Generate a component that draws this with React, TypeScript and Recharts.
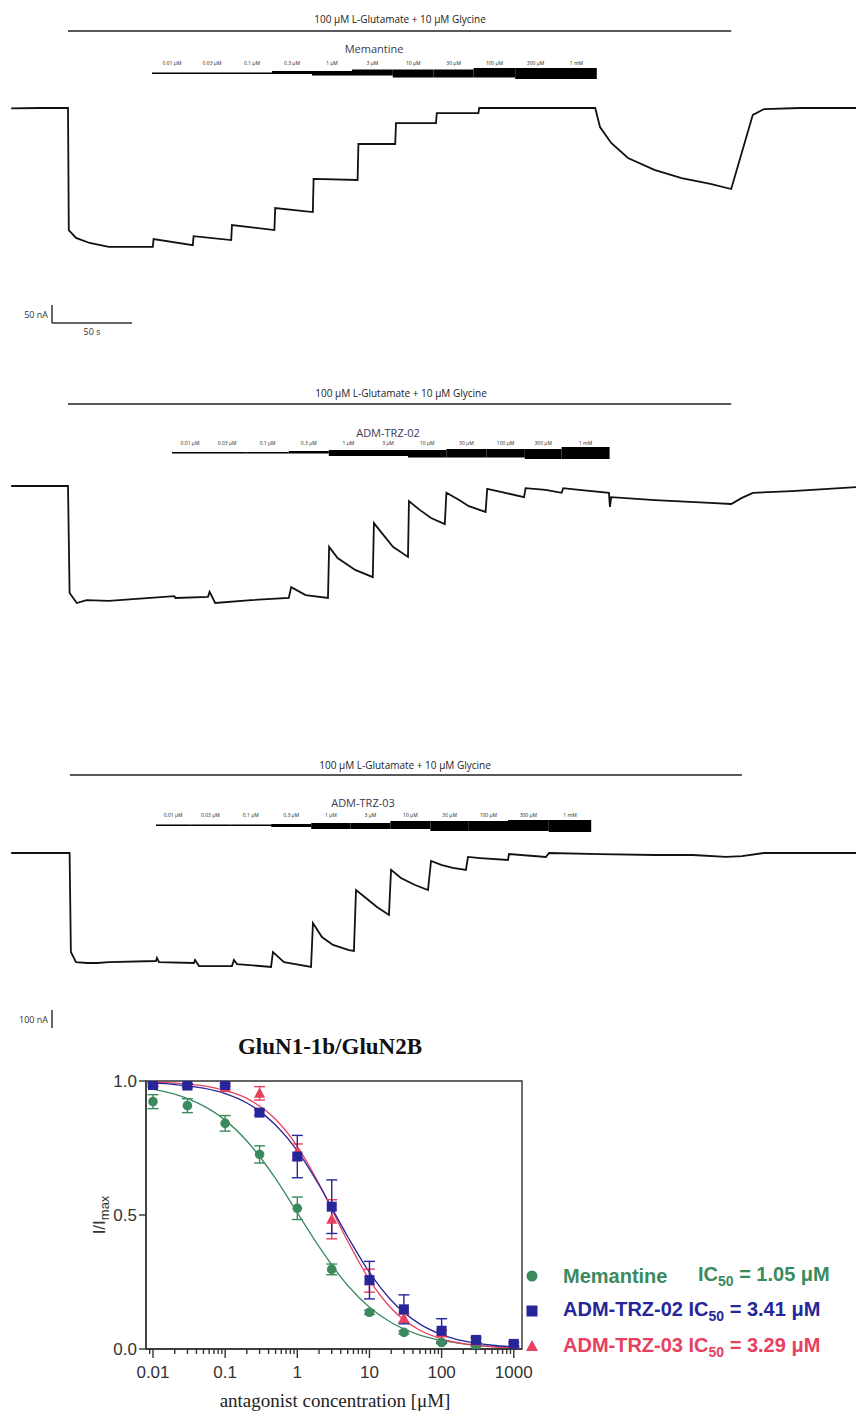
import React from 'react';
import {
  LineChart,
  Line,
  XAxis,
  YAxis,
  ReferenceLine,
  ReferenceArea,
  ComposedChart,
  Scatter,
  ErrorBar,
} from 'recharts';

// ---- current traces (time in s, current in nA) ----
const memantineT = [7, 25, 42.5, 43, 47.5, 56, 68, 95.5, 96, 120.5, 121, 144.5, 145, 171.5, 172, 195.5, 196, 223.5, 224, 247, 247.5, 272.5, 273, 299, 299.5, 372, 375, 382, 392.5, 409, 426, 444, 457, 470.5, 477.5, 500, 535];
const memantineI = [-1, 0, 0, -339, -361, -375, -386, -386, -364, -381, -356, -367, -325, -339, -278, -289, -197, -200, -100, -100, -42, -42, -14, -14, 0, 0, -53, -97, -139, -172, -195, -211, -225, -19, -3, 0, 0];

const adm02T = [7, 42.5, 43.5, 48, 54, 68, 109, 109.7, 130, 131, 134.5, 157, 180.5, 182, 191, 205, 205.7, 211, 222, 233, 233.7, 238.7, 245.6, 255, 255.6, 262.5, 269.4, 278, 279, 287, 293, 303.5, 304.5, 313.7, 327.5, 328.5, 341, 351, 352, 362, 380.6, 381.2, 382, 409.4, 443.7, 457, 463.7, 470.6, 495, 535];
const adm02I = [0, 0, -297, -325, -317, -319, -306, -311, -308, -294, -325, -317, -311, -281, -303, -311, -169, -200, -233, -253, -103, -131, -169, -197, -42, -67, -89, -106, -19, -39, -56, -72, -8, -17, -31, -6, -11, -19, -6, -11, -19, -58, -31, -39, -47, -50, -33, -19, -14, -3];

const adm03T = [7, 43.5, 44.3, 47.5, 54.4, 61, 68, 97.5, 98.1, 99.4, 121.2, 121.9, 124.4, 145, 146.2, 148.1, 169.4, 170.6, 177.5, 194.4, 195.6, 201.2, 208.1, 218.1, 221.2, 222.5, 228.7, 235.6, 243.1, 244.4, 250.6, 259.4, 267.5, 269.4, 276.2, 283.1, 291.2, 292.5, 300, 317.5, 318.1, 341.2, 343.1, 375, 409.4, 433, 453.7, 463.7, 477.5, 535];
const adm03I = [0, 0, -550, -606, -611, -611, -606, -600, -583, -606, -611, -594, -628, -628, -594, -617, -633, -550, -606, -633, -389, -467, -511, -539, -544, -206, -250, -300, -344, -94, -139, -178, -206, -44, -67, -83, -94, -22, -28, -39, -6, -22, 0, -6, -11, -11, -22, -17, 0, 0];

// application times (s): start of each concentration, last value = wash
const concLabels = ['0.01 μM', '0.03 μM', '0.1 μM', '0.3 μM', '1 μM', '3 μM', '10 μM', '30 μM', '100 μM', '300 μM', '1 mM'];
const memantineSteps = [95, 120, 145, 170, 195, 220, 245.5, 271, 296, 322, 347.5, 373];
const adm02Steps = [107.5, 130, 154, 180.5, 205.5, 230, 255, 279, 304, 328, 351, 381];
const adm03Steps = [97.5, 119, 144, 169.5, 194.5, 219, 244, 269, 293, 317.5, 343, 369.5];
const glutamate12 = [42.5, 457];
const glutamate3 = [43.7, 463.7];

// ---- concentration–response ----
const concX = [0.01, 0.03, 0.1, 0.3, 1, 3, 10, 30, 100, 300, 1000];
const memY = [0.923, 0.908, 0.842, 0.726, 0.525, 0.297, 0.137, 0.062, 0.024, 0.011, 0.006];
const memErr = [0.026, 0.026, 0.029, 0.032, 0.042, 0.02, 0.008, 0.006, 0.004, 0.003, 0.002];
const adm02Y = [0.985, 0.983, 0.985, 0.882, 0.718, 0.531, 0.257, 0.148, 0.068, 0.034, 0.019];
const adm02Err = [0.006, 0.006, 0.006, 0.01, 0.079, 0.1, 0.07, 0.054, 0.045, 0.01, 0.008];
const adm03Y = [0.99, 0.985, 0.975, 0.954, 0.735, 0.484, 0.255, 0.115, 0.06, 0.03, 0.015];
const adm03Err = [0.005, 0.005, 0.008, 0.025, 0.03, 0.073, 0.043, 0.015, 0.01, 0.008, 0.005];

const fitX = [0.01, 0.02, 0.05, 0.1, 0.2, 0.5, 1, 2, 5, 10, 20, 50, 100, 200, 500, 1000];
const memFit = [0.97, 0.951, 0.907, 0.854, 0.776, 0.636, 0.509, 0.382, 0.237, 0.156, 0.099, 0.052, 0.032, 0.019, 0.0097, 0.0058];
const adm02Fit = [0.993, 0.987, 0.973, 0.953, 0.918, 0.836, 0.74, 0.612, 0.419, 0.286, 0.182, 0.093, 0.054, 0.03, 0.014, 0.008];
const adm03Fit = [0.996, 0.992, 0.982, 0.965, 0.935, 0.857, 0.756, 0.616, 0.402, 0.258, 0.152, 0.07, 0.038, 0.02, 0.0084, 0.0044];

const majorTicks = [0.01, 0.1, 1, 10, 100, 1000];
const minorTicks = [0.009, 0.02, 0.03, 0.04, 0.05, 0.06, 0.07, 0.08, 0.09, 0.2, 0.3, 0.4, 0.5, 0.6, 0.7, 0.8, 0.9, 2, 3, 4, 5, 6, 7, 8, 9, 20, 30, 40, 50, 60, 70, 80, 90, 200, 300, 400, 500, 600, 700, 800, 900];

// ---- layout / style ----
const PX_PER_S = 1.6;
const T_MAX = 535;
const GREEN = '#3b8a5e';
const BLUE = '#26269a';
const RED = '#e8405f';
const AXIS = '#333';
const ANN_FONT = "'Open Sans', 'Liberation Sans', sans-serif";

// wedge thickness per step, [top, bottom] in panel px
const wedge1 = [[72.5, 74], [72.5, 74], [72.5, 74], [71, 74], [71, 75.5], [69.5, 75.5], [69.5, 77.5], [69.5, 77.5], [68, 77.5], [68, 79], [68, 79]];
const wedge2 = [[72, 73.5], [72, 73.5], [72, 73.5], [71, 73.5], [70, 76], [70, 76], [70, 77.5], [69, 77.5], [69, 77.5], [69, 79], [67, 79]];
const wedge3 = [[84.5, 86], [84.5, 86], [84.5, 86], [84, 87], [83, 89], [83, 89], [81, 89], [81, 91], [81, 91], [80, 91], [80, 92]];

function Txt({ x, y, size, anchor = 'middle', color = '#222', family = ANN_FONT, weight = 400, children }: any) {
  const tx = anchor === 'middle' ? '-50%' : anchor === 'end' ? '-100%' : '0';
  return (
    <div
      style={{
        position: 'absolute',
        left: x,
        top: y,
        transform: `translate(${tx}, -50%)`,
        fontSize: size,
        fontFamily: family,
        fontWeight: weight,
        color,
        lineHeight: 1,
        whiteSpace: 'nowrap',
      }}
    >
      {children}
    </div>
  );
}

type ScaleBar = { t: number; px: number; nA: number; s?: number; nALabel: string; sLabel?: string };

function TracePanel(props: {
  top: number; height: number; base: number; nAPerPx: number;
  times: number[]; currents: number[]; steps: number[]; wedge: number[][];
  glu: number[]; gluY: number; titleX: number; titleY: number;
  drug: string; drugX: number; drugY: number; labelY: number; scale?: ScaleBar;
}) {
  const { top, height, base, nAPerPx, times, currents, steps, wedge, glu, gluY, scale } = props;
  const data = times.map((t, i) => ({ t, i: currents[i] }));
  const yAt = (px: number) => (base - px) * nAPerPx;
  return (
    <div style={{ position: 'absolute', left: 0, top, width: 856, height }}>
      <LineChart width={856} height={height} data={data} margin={{ top: 0, right: 0, bottom: 0, left: 0 }}>
        <XAxis dataKey="t" type="number" domain={[0, T_MAX]} allowDataOverflow hide />
        <YAxis yAxisId="nA" type="number" domain={[yAt(height), yAt(0)]} allowDataOverflow hide />
        <YAxis yAxisId="px" type="number" domain={[0, height]} reversed allowDataOverflow hide />
        <ReferenceLine
          yAxisId="px"
          segment={[{ x: glu[0], y: gluY }, { x: glu[1], y: gluY }]}
          stroke="#222"
          strokeWidth={1.4}
        />
        {concLabels.map((c, k) => (
          <ReferenceArea
            key={c}
            yAxisId="px"
            x1={steps[k]}
            x2={steps[k + 1]}
            y1={wedge[k][0]}
            y2={wedge[k][1]}
            fill="#000"
            fillOpacity={1}
            stroke="none"
          />
        ))}
        {scale && (
          <ReferenceLine
            yAxisId="nA"
            segment={[{ x: scale.t, y: yAt(scale.px) }, { x: scale.t, y: yAt(scale.px) + scale.nA }]}
            stroke="#333"
            strokeWidth={1.5}
          />
        )}
        {scale && scale.s && (
          <ReferenceLine
            yAxisId="nA"
            segment={[{ x: scale.t, y: yAt(scale.px) }, { x: scale.t + scale.s, y: yAt(scale.px) }]}
            stroke="#333"
            strokeWidth={1.5}
          />
        )}
        <Line
          yAxisId="nA"
          type="linear"
          dataKey="i"
          stroke="#111"
          strokeWidth={1.8}
          dot={false}
          activeDot={false}
          isAnimationActive={false}
        />
      </LineChart>
      <Txt x={props.titleX} y={props.titleY} size={10}>100 μM L-Glutamate + 10 μM Glycine</Txt>
      <Txt x={props.drugX} y={props.drugY} size={11} color="#3a3a52">{props.drug}</Txt>
      {concLabels.map((c, k) => (
        <Txt key={c} x={((steps[k] + steps[k + 1]) / 2) * PX_PER_S} y={props.labelY} size={5}>{c}</Txt>
      ))}
      {scale && (
        <Txt x={scale.t * PX_PER_S - 4} y={scale.px - 9} size={9} anchor="end" color="#333">{scale.nALabel}</Txt>
      )}
      {scale && scale.s && (
        <Txt x={(scale.t + scale.s / 2) * PX_PER_S} y={scale.px + 8} size={9} color="#333">{scale.sLabel}</Txt>
      )}
    </div>
  );
}

const LogTick = (p: any) => {
  const v = p.payload.value;
  const major = majorTicks.includes(v);
  return (
    <g>
      <line x1={p.x} x2={p.x} y1={p.y} y2={p.y + (major ? 9 : 5)} stroke={AXIS} strokeWidth={1.4} />
      {major && (
        <text x={p.x} y={p.y + 29} textAnchor="middle" fontSize={17} fill={AXIS} fontFamily="'Liberation Sans', Arial, sans-serif">
          {String(v)}
        </text>
      )}
    </g>
  );
};

const dot = (color: string) => (p: any) => <circle cx={p.cx} cy={p.cy} r={4.8} fill={color} />;
const square = (color: string) => (p: any) => <rect x={p.cx - 5} y={p.cy - 5} width={10} height={10} fill={color} />;
const triangle = (color: string) => (p: any) => (
  <polygon points={`${p.cx},${p.cy - 6} ${p.cx - 5.5},${p.cy + 4.5} ${p.cx + 5.5},${p.cy + 4.5}`} fill={color} />
);

function DoseResponse() {
  const pts = (ys: number[], es: number[]) => concX.map((x, i) => ({ x, y: ys[i], err: es[i] }));
  const fit = (ys: number[]) => fitX.map((x, i) => ({ x, y: ys[i] }));
  const legendFont = "'Liberation Sans', Arial, sans-serif";
  return (
    <>
      <Txt x={330} y={1046} size={23} weight={700} family="'Liberation Serif', 'Times New Roman', serif" color="#111">
        GluN1-1b/GluN2B
      </Txt>
      <div style={{ position: 'absolute', left: 0, top: 1040 }}>
        <ComposedChart width={540} height={370} margin={{ top: 41, right: 18, bottom: 31, left: 0 }}>
          <XAxis
            dataKey="x"
            type="number"
            scale="log"
            domain={[0.008, 1300]}
            allowDataOverflow
            ticks={[...majorTicks, ...minorTicks].sort((a, b) => a - b)}
            interval={0}
            tick={<LogTick />}
            tickLine={false}
            tickSize={0}
            tickMargin={0}
            height={30}
            stroke={AXIS}
            strokeWidth={1.4}
          />
          <YAxis
            type="number"
            domain={[0, 1]}
            allowDataOverflow
            ticks={[0, 0.5, 1]}
            tickFormatter={(v: number) => v.toFixed(1)}
            tickSize={7}
            width={146}
            stroke={AXIS}
            strokeWidth={1.4}
            tick={{ fontSize: 17, fill: AXIS, fontFamily: legendFont }}
          />
          <ReferenceArea x1={0.008} x2={1300} y1={0} y2={1} fill="none" stroke={AXIS} strokeWidth={1.4} />
          <Line data={fit(memFit)} dataKey="y" type="monotone" stroke={GREEN} strokeWidth={1.3} dot={false} activeDot={false} isAnimationActive={false} />
          <Line data={fit(adm03Fit)} dataKey="y" type="monotone" stroke={RED} strokeWidth={1.3} dot={false} activeDot={false} isAnimationActive={false} />
          <Line data={fit(adm02Fit)} dataKey="y" type="monotone" stroke={BLUE} strokeWidth={1.3} dot={false} activeDot={false} isAnimationActive={false} />
          <Scatter data={pts(memY, memErr)} dataKey="y" shape={dot(GREEN)} isAnimationActive={false}>
            <ErrorBar dataKey="err" direction="y" width={5.5} stroke={GREEN} strokeWidth={1.4} isAnimationActive={false} />
          </Scatter>
          <Scatter data={pts(adm03Y, adm03Err)} dataKey="y" shape={triangle(RED)} isAnimationActive={false}>
            <ErrorBar dataKey="err" direction="y" width={5.5} stroke={RED} strokeWidth={1.4} isAnimationActive={false} />
          </Scatter>
          <Scatter data={pts(adm02Y, adm02Err)} dataKey="y" shape={square(BLUE)} isAnimationActive={false}>
            <ErrorBar dataKey="err" direction="y" width={5.5} stroke={BLUE} strokeWidth={1.4} isAnimationActive={false} />
          </Scatter>
        </ComposedChart>
      </div>
      <div
        style={{
          position: 'absolute',
          left: 101,
          top: 1215,
          transform: 'translate(-50%, -50%) rotate(-90deg)',
          fontSize: 17,
          fontFamily: legendFont,
          color: AXIS,
          whiteSpace: 'nowrap',
        }}
      >
        I/I<sub style={{ fontSize: 13 }}>max</sub>
      </div>
      <Txt x={335} y={1400} size={19} family="'Liberation Serif', 'Times New Roman', serif" color="#222">
        antagonist concentration [μM]
      </Txt>
      {/* legend */}
      <svg style={{ position: 'absolute', left: 520, top: 1260 }} width={26} height={100}>
        <circle cx={12} cy={16} r={5.5} fill={GREEN} />
        <rect x={6.5} y={45.5} width={11} height={11} fill={BLUE} />
        <polygon points="12,80 6,91 18,91" fill={RED} />
      </svg>
      <Txt x={563} y={1276} size={20} anchor="start" weight={700} family={legendFont} color={GREEN}>Memantine</Txt>
      <Txt x={698} y={1276} size={20} anchor="start" weight={700} family={legendFont} color={GREEN}>
        IC<sub style={{ fontSize: 14 }}>50</sub> = 1.05 μM
      </Txt>
      <Txt x={563} y={1311} size={20} anchor="start" weight={700} family={legendFont} color={BLUE}>
        ADM-TRZ-02 IC<sub style={{ fontSize: 14 }}>50</sub> = 3.41 μM
      </Txt>
      <Txt x={563} y={1347} size={20} anchor="start" weight={700} family={legendFont} color={RED}>
        ADM-TRZ-03 IC<sub style={{ fontSize: 14 }}>50</sub> = 3.29 μM
      </Txt>
    </>
  );
}

export default function App() {
  return (
    <div style={{ position: 'absolute', left: 0, top: 0, width: 856, height: 1411, background: '#fff', overflow: 'hidden' }}>
      <TracePanel
        top={0} height={345} base={108} nAPerPx={50 / 18}
        times={memantineT} currents={memantineI} steps={memantineSteps} wedge={wedge1}
        glu={glutamate12} gluY={31} titleX={400} titleY={19}
        drug="Memantine" drugX={374} drugY={48} labelY={63}
        scale={{ t: 32.5, px: 323, nA: 50, s: 50, nALabel: '50 nA', sLabel: '50 s' }}
      />
      <TracePanel
        top={380} height={260} base={106} nAPerPx={50 / 18}
        times={adm02T} currents={adm02I} steps={adm02Steps} wedge={wedge2}
        glu={glutamate12} gluY={24} titleX={401} titleY={13}
        drug="ADM-TRZ-02" drugX={388} drugY={52} labelY={63}
      />
      <TracePanel
        top={740} height={300} base={113} nAPerPx={100 / 18}
        times={adm03T} currents={adm03I} steps={adm03Steps} wedge={wedge3}
        glu={glutamate3} gluY={35} titleX={405} titleY={25}
        drug="ADM-TRZ-03" drugX={363} drugY={62} labelY={75}
        scale={{ t: 32.5, px: 288, nA: 100, nALabel: '100 nA' }}
      />
      <DoseResponse />
    </div>
  );
}
